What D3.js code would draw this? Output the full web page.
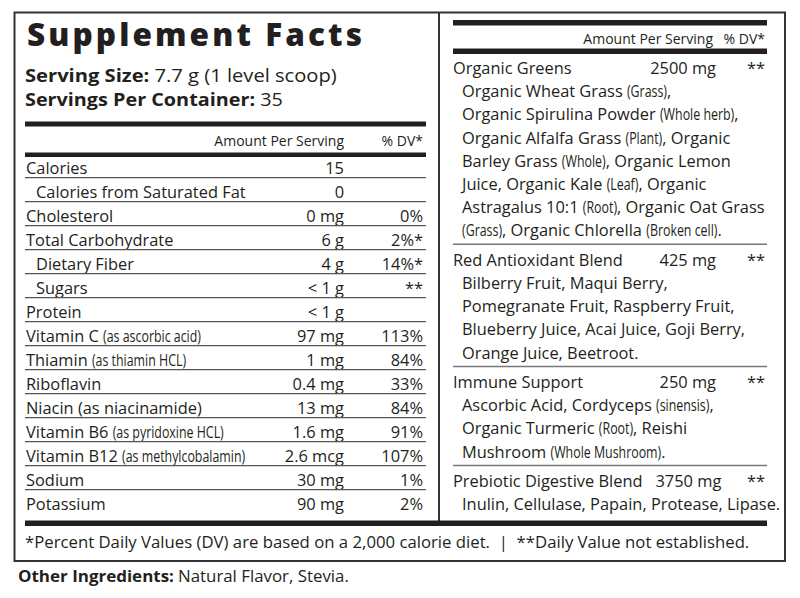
<!DOCTYPE html>
<html>
<head>
<meta charset="utf-8">
<script src="https://cdn.jsdelivr.net/npm/d3@7/dist/d3.min.js"></script>
<style>
  html, body { margin: 0; padding: 0; background: #fff; }
  svg { display: block; }
  text { font-family: "Open Sans", "Noto Sans", sans-serif; fill: #231f20; }
</style>
</head>
<body>
<svg id="chart" width="800" height="598"></svg>
<script>
// ---------------- DATA ----------------
const title = "Supplement Facts";
const servingSize = ["Serving Size:", "7.7 g (1 level scoop)"];
const servingsPerContainer = ["Servings Per Container:", "35"];
const columnHeaders = ["Amount Per Serving", "% DV*"];

const nutrients = ["Calories", "Calories from Saturated Fat", "Cholesterol", "Total Carbohydrate",
  "Dietary Fiber", "Sugars", "Protein", "Vitamin C", "Thiamin", "Riboflavin",
  "Niacin (as niacinamide)", "Vitamin B6", "Vitamin B12", "Sodium", "Potassium"];
const nutrientNotes = ["", "", "", "", "", "", "", "(as ascorbic acid)", "(as thiamin HCL)", "",
  "", "(as pyridoxine HCL)", "(as methylcobalamin)", "", ""];
const nutrientLevel = [0, 1, 0, 0, 1, 1, 0, 0, 0, 0, 0, 0, 0, 0, 0];
const nutrientAmounts = ["15", "0", "0 mg", "6 g", "4 g", "< 1 g", "< 1 g", "97 mg", "1 mg",
  "0.4 mg", "13 mg", "1.6 mg", "2.6 mcg", "30 mg", "90 mg"];
const nutrientDV = ["", "", "0%", "2%*", "14%*", "**", "", "113%", "84%", "33%", "84%", "91%",
  "107%", "1%", "2%"];

const blendNames = ["Organic Greens", "Red Antioxidant Blend", "Immune Support", "Prebiotic Digestive Blend"];
const blendAmounts = ["2500 mg", "425 mg", "250 mg", "3750 mg"];
const blendDV = ["**", "**", "**", "**"];
// {...} marks text set in the condensed face
const blendIngredients = [
  ["Organic Wheat Grass {(Grass)},",
   "Organic Spirulina Powder {(Whole herb)},",
   "Organic Alfalfa Grass {(Plant)}, Organic",
   "Barley Grass {(Whole)}, Organic Lemon",
   "Juice, Organic Kale {(Leaf)}, Organic",
   "Astragalus 10:1 {(Root)}, Organic Oat Grass",
   "{(Grass)}, Organic Chlorella {(Broken cell)}."],
  ["Bilberry Fruit, Maqui Berry,",
   "Pomegranate Fruit, Raspberry Fruit,",
   "Blueberry Juice, Acai Juice, Goji Berry,",
   "Orange Juice, Beetroot."],
  ["Ascorbic Acid, Cordyceps {(sinensis)},",
   "Organic Turmeric {(Root)}, Reishi",
   "Mushroom {(Whole Mushroom)}."],
  ["Inulin, Cellulase, Papain, Protease, Lipase."]
];

const footnote = "*Percent Daily Values (DV) are based on a 2,000 calorie diet.  |  **Daily Value not established.";
const otherIngredients = ["Other Ingredients:", "Natural Flavor, Stevia."];

// ---------------- LAYOUT ----------------
const svg = d3.select("#chart");
const INK = "#231f20";
const FS = 16.4;          // body font size
const COND = 0.8;         // condensed factor
const COND_FS = 15.5;

const nb = s => s.replace(/ /g, "\u00A0");

// draws a text squeezed horizontally by factor k, returns its drawn width
function squeezed(g, str, x, y, fs, k, weight) {
  const t = g.append("text").attr("x", 0).attr("y", 0)
    .attr("font-size", fs).attr("font-weight", weight || 400)
    .attr("transform", `translate(${x},${y}) scale(${k},1)`).text(nb(str));
  return t.node().getComputedTextLength() * k;
}

function drawRich(g, str, x, y) {
  const parts = [];
  const re = /\{([^}]*)\}/g;
  let last = 0, m;
  while ((m = re.exec(str)) !== null) {
    if (m.index > last) parts.push({ t: str.slice(last, m.index), c: false });
    parts.push({ t: m[1], c: true });
    last = re.lastIndex;
  }
  if (last < str.length) parts.push({ t: str.slice(last), c: false });
  let cx = x;
  parts.forEach(p => {
    if (p.c) {
      cx += squeezed(g, p.t, cx, y, COND_FS, COND);
    } else {
      const t = g.append("text").attr("x", cx).attr("y", y).attr("font-size", FS).text(nb(p.t));
      cx += t.node().getComputedTextLength();
    }
  });
  return cx;
}

// outer border and divider
svg.append("rect").attr("x", 14.5).attr("y", 12.5).attr("width", 770.5).attr("height", 548.5)
  .attr("fill", "none").attr("stroke", "#333").attr("stroke-width", 2);
svg.append("line").attr("x1", 439).attr("x2", 439).attr("y1", 12.5).attr("y2", 521)
  .attr("stroke", "#333").attr("stroke-width", 2);

// ----- LEFT PANEL -----
const L = { x0: 25, x1: 426, amt: 344, dv: 423 };
svg.append("text").attr("x", 27).attr("y", 46).attr("font-size", 31.5).attr("font-weight", 800)
  .attr("textLength", 335).attr("lengthAdjust", "spacing").text(title);

// bold label + value, stretched to the width they take on the label
function boldPair(pair, y, fs, width) {
  const t = svg.append("text").attr("font-size", fs);
  t.append("tspan").attr("font-weight", 700).text(pair[0]);
  t.append("tspan").text("\u00A0" + pair[1]);
  const w = t.node().getComputedTextLength();
  t.attr("transform", `translate(25,${y}) scale(${width / w},1)`);
}
boldPair(servingSize, 82, 17.5, 312);
boldPair(servingsPerContainer, 106, 17.5, 258);

const bar = (x0, x1, y, h) => svg.append("rect").attr("x", x0).attr("y", y)
  .attr("width", x1 - x0).attr("height", h).attr("fill", INK);
bar(L.x0, L.x1, 121.5, 5);
bar(L.x0, L.x1, 152.5, 4.5);

svg.append("text").attr("x", L.amt).attr("y", 146).attr("font-size", 14)
  .attr("text-anchor", "end").text(columnHeaders[0]);
svg.append("text").attr("x", L.dv).attr("y", 146).attr("font-size", 14)
  .attr("text-anchor", "end").text(columnHeaders[1]);

const yRow = d3.scaleBand().domain(nutrients).range([153.7, 513.7]).padding(0);
const rows = svg.append("g");
nutrients.forEach((n, i) => {
  const by = yRow(n) + yRow.bandwidth() - 3.5;
  const g = rows.append("g");
  const label = nutrientNotes[i] ? n + " {" + nutrientNotes[i] + "}" : n;
  drawRich(g, label, L.x0 + 1 + nutrientLevel[i] * 10, by);
  g.append("text").attr("x", L.amt).attr("y", by).attr("font-size", FS)
    .attr("text-anchor", "end").text(nutrientAmounts[i]);
  if (nutrientDV[i]) {
    g.append("text").attr("x", L.dv).attr("y", by).attr("font-size", FS)
      .attr("text-anchor", "end").attr("fill", nutrientDV[i] === "**" ? "#555" : INK)
      .text(nutrientDV[i]);
  }
  if (i < nutrients.length - 1) {
    const ly = yRow(n) + yRow.bandwidth();
    g.append("line").attr("x1", L.x0).attr("x2", L.x1).attr("y1", ly).attr("y2", ly)
      .attr("stroke", "#555").attr("stroke-width", 1.3);
  }
});

// ----- RIGHT PANEL -----
const R = { x0: 453, x1: 767, sub: 462, amt: 716, dv: 765 };
bar(R.x0, R.x1, 20, 5.5);
bar(R.x0, R.x1, 48.5, 5.5);
svg.append("text").attr("x", 713).attr("y", 44).attr("font-size", 14)
  .attr("text-anchor", "end").text(columnHeaders[0]);
svg.append("text").attr("x", R.dv).attr("y", 44).attr("font-size", 14)
  .attr("text-anchor", "end").text(columnHeaders[1]);

// line positions: index of line within the panel, plus a gap for each block separator
const yLine = d3.scaleLinear().domain([0, 1]).range([74, 97.2]);
const SEP_GAP = 6.2;
let lineIdx = 0;
blendNames.forEach((name, b) => {
  const hy = yLine(lineIdx) + b * SEP_GAP;
  if (b > 0) {
    const sy = hy - 21.5;
    svg.append("line").attr("x1", R.x0).attr("x2", R.x1).attr("y1", sy).attr("y2", sy)
      .attr("stroke", "#777").attr("stroke-width", 1.5);
  }
  const g = svg.append("g");
  const nameEnd = drawRich(g, name, R.x0, hy);
  const at = g.append("text").attr("y", hy).attr("font-size", FS)
    .attr("text-anchor", "end").text(blendAmounts[b]);
  const aw = at.node().getComputedTextLength();
  at.attr("x", Math.max(R.amt, nameEnd + 13 + aw));
  g.append("text").attr("x", R.dv).attr("y", hy).attr("font-size", FS)
    .attr("text-anchor", "end").attr("fill", "#555").text(blendDV[b]);
  lineIdx += 1;
  blendIngredients[b].forEach(s => {
    drawRich(g, s, R.sub, yLine(lineIdx) + b * SEP_GAP);
    lineIdx += 1;
  });
});

// bottom thick bar and footnotes
bar(25, 767, 520.5, 5.5);
const fnG = svg.append("g");
{
  const t = fnG.append("text").attr("font-size", 16).text(nb(footnote));
  const w = t.node().getComputedTextLength();
  t.attr("transform", `translate(25,548) scale(${725 / w},1)`);
}
{
  const t1 = fnG.append("text").attr("font-size", 16).attr("font-weight", 700).text(nb(otherIngredients[0]));
  const w1 = t1.node().getComputedTextLength();
  t1.attr("transform", `translate(18,582) scale(${156 / w1},1)`);
  const t2 = fnG.append("text").attr("font-size", 16).text(nb(otherIngredients[1]));
  const w2 = t2.node().getComputedTextLength();
  t2.attr("transform", `translate(178,582) scale(${171 / w2},1)`);
}
</script>
</body>
</html>
